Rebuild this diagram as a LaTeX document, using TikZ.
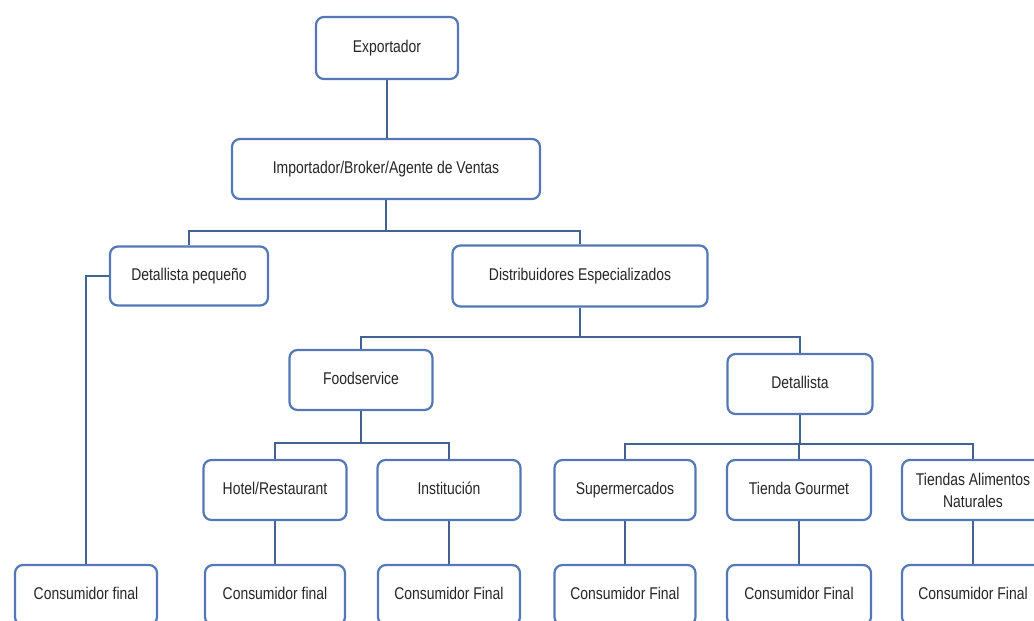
\documentclass[tikz,border=0pt]{standalone}
\usepackage{fontspec}
\setmainfont[FakeStretch=0.82]{Liberation Sans}
\definecolor{boxblue}{HTML}{5478B5}
\definecolor{linkblue}{HTML}{44628F}
\definecolor{labelgray}{HTML}{262626}
\begin{document}
\begin{tikzpicture}[x=1pt,y=-1pt,
  box/.style={draw=boxblue, line width=2.2pt, rounded corners=8pt, fill=white,
    minimum width=#1, minimum height=60pt, inner sep=0pt, align=center,
    text height=12.5pt, text depth=3.5pt,
    font=\fontsize{17}{22}\selectfont, text=labelgray},
  twoline/.style={text height=, text depth=},
  link/.style={draw=linkblue, line width=2.6pt}]
\useasboundingbox (0,0) rectangle (1034,621);
\clip (0,0) rectangle (1034,621);

% level 1 and 2
\node[box=142, minimum height=62pt] (exp) at (387,48) {Exportador};
\node[box=308] (imp) at (386,169) {Importador/Broker/Agente de Ventas};

% level 3
\node[box=158, minimum height=59pt] (dp) at (189,276) {Detallista pequeño};
\node[box=255, minimum height=61pt] (dist) at (580,276) {Distribuidores Especializados};

% level 4
\node[box=143] (food) at (361,380) {Foodservice};
\node[box=145] (det) at (800,384) {Detallista};

% level 5
\node[box=143] (hotel) at (275,490) {Hotel/Restaurant};
\node[box=143] (inst) at (449,490) {Institución};
\node[box=141] (super) at (625,490) {Supermercados};
\node[box=144] (gour) at (799,490) {Tienda Gourmet};
\node[box=142, twoline] (nat) at (973,490) {Tiendas Alimentos\\Naturales};

% final consumers
\node[box=142] (c1) at (86,595) {Consumidor final};
\node[box=140] (c2) at (275,595) {Consumidor final};
\node[box=142] (c3) at (449,595) {Consumidor Final};
\node[box=141] (c4) at (625,595) {Consumidor Final};
\node[box=144] (c5) at (799,595) {Consumidor Final};
\node[box=142] (c6) at (973,595) {Consumidor Final};

% branching points
\coordinate (b1) at (386,231);
\coordinate (b2) at (580,337);
\coordinate (b3) at (361,443);
\coordinate (b4) at (799,444);

% connectors
\draw[link] (exp.south) -- (exp.south |- imp.north);
\draw[link] (imp.south) -- (b1);
\draw[link] (dp.north) |- (b1) -| (dist.north);
\draw[link] (dp.west) -| (c1.north);
\draw[link] (dist.south) -- (b2);
\draw[link] (food.north) |- (b2) -| (det.north);
\draw[link] (food.south) -- (b3);
\draw[link] (hotel.north) |- (b3) -| (inst.north);
\draw[link] (det.south) -- (det.south |- b4);
\draw[link] (super.north) |- (b4) -| (nat.north);
\draw[link] (gour.north) -- (gour.north |- b4);
\draw[link] (hotel.south) -- (c2.north);
\draw[link] (inst.south) -- (c3.north);
\draw[link] (super.south) -- (c4.north);
\draw[link] (gour.south) -- (c5.north);
\draw[link] (nat.south) -- (c6.north);
\end{tikzpicture}
\end{document}
